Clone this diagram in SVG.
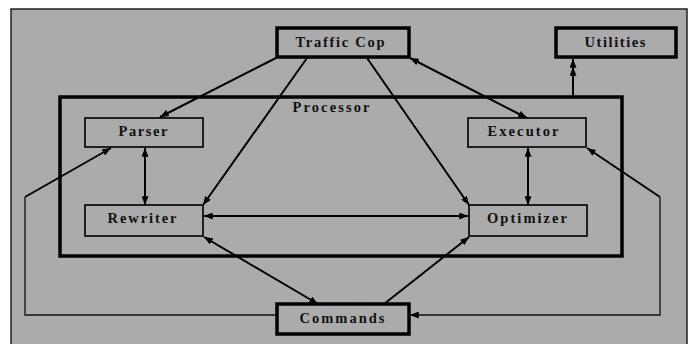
<svg xmlns="http://www.w3.org/2000/svg" width="697" height="344" viewBox="0 0 697 344">
<defs>
<marker id="ah" viewBox="0 0 10 8" refX="10" refY="4" markerWidth="9" markerHeight="7" markerUnits="userSpaceOnUse" orient="auto-start-reverse">
<path d="M0,0 L10,4 L0,8 z" fill="#000"/>
</marker>
<style>
.bg{fill:#ababab;stroke:#222;stroke-width:1.5}
.thick{fill:none;stroke:#000;stroke-width:3.5}
.thin{fill:none;stroke:#111;stroke-width:1.8}
.lbl{font-family:"Liberation Serif",serif;font-weight:bold;font-size:14.5px;fill:#111;text-anchor:middle}
.c{fill:none;stroke:#000;stroke-width:2}
.cl{fill:none;stroke:#111;stroke-width:1.3}
</style>
</defs>
<rect width="697" height="344" fill="#fff"/>
<rect class="bg" x="11" y="9" width="676" height="340"/>
<g id="processor">
<rect class="thick" x="60" y="97" width="562" height="159"/>
<text class="lbl" x="331" y="112" textLength="77" lengthAdjust="spacing">Processor</text>
</g>
<g id="trafficcop">
<rect class="thick" x="277" y="28" width="132" height="29"/>
<text class="lbl" x="340" y="47" textLength="89" lengthAdjust="spacing">Traffic Cop</text>
</g>
<g id="utilities">
<rect class="thick" x="556" y="28" width="120" height="29"/>
<text class="lbl" x="615" y="47" textLength="61" lengthAdjust="spacing">Utilities</text>
</g>
<g id="parser">
<rect class="thin" x="85" y="118" width="118" height="29"/>
<text class="lbl" x="143" y="136" textLength="49" lengthAdjust="spacing">Parser</text>
</g>
<g id="executor">
<rect class="thin" x="468" y="118" width="118" height="29"/>
<text class="lbl" x="523" y="136" textLength="71" lengthAdjust="spacing">Executor</text>
</g>
<g id="rewriter">
<rect class="thin" x="85" y="205" width="118" height="31"/>
<text class="lbl" x="142" y="223" textLength="69" lengthAdjust="spacing">Rewriter</text>
</g>
<g id="optimizer">
<rect class="thin" x="469" y="205" width="118" height="31"/>
<text class="lbl" x="527" y="223" textLength="80" lengthAdjust="spacing">Optimizer</text>
</g>
<g id="commands">
<rect class="thick" x="277" y="304" width="132" height="30"/>
<text class="lbl" x="342" y="323" textLength="85" lengthAdjust="spacing">Commands</text>
</g>
<g id="connectors">
<line class="c" x1="276" y1="58" x2="160" y2="117" marker-end="url(#ah)"/>
<line class="c" x1="307" y1="58" x2="203" y2="205" marker-end="url(#ah)"/>
<line class="c" x1="367" y1="58" x2="469" y2="205" marker-end="url(#ah)"/>
<line class="c" x1="410" y1="58" x2="527" y2="118" marker-start="url(#ah)" marker-end="url(#ah)"/>
<polyline class="c" points="573,96 573,67 573,59" marker-mid="url(#ah)" marker-end="url(#ah)"/>
<line class="c" x1="145" y1="148" x2="145" y2="205" marker-start="url(#ah)" marker-end="url(#ah)"/>
<line class="c" x1="528" y1="148" x2="528" y2="205" marker-start="url(#ah)" marker-end="url(#ah)"/>
<line class="c" x1="204" y1="216" x2="468" y2="216" marker-start="url(#ah)" marker-end="url(#ah)"/>
<line class="c" x1="204" y1="237" x2="318" y2="304" marker-start="url(#ah)" marker-end="url(#ah)"/>
<line class="c" x1="384" y1="304" x2="469" y2="237" marker-end="url(#ah)"/>
<polyline class="cl" points="276,315 25,315 25,197"/>
<line class="c" x1="25" y1="197" x2="111" y2="148" marker-end="url(#ah)"/>
<polyline class="cl" points="410,315 660,315 660,197" marker-start="url(#ah)"/>
<line class="c" x1="660" y1="197" x2="587" y2="148" marker-end="url(#ah)"/>
</g>
</svg>
